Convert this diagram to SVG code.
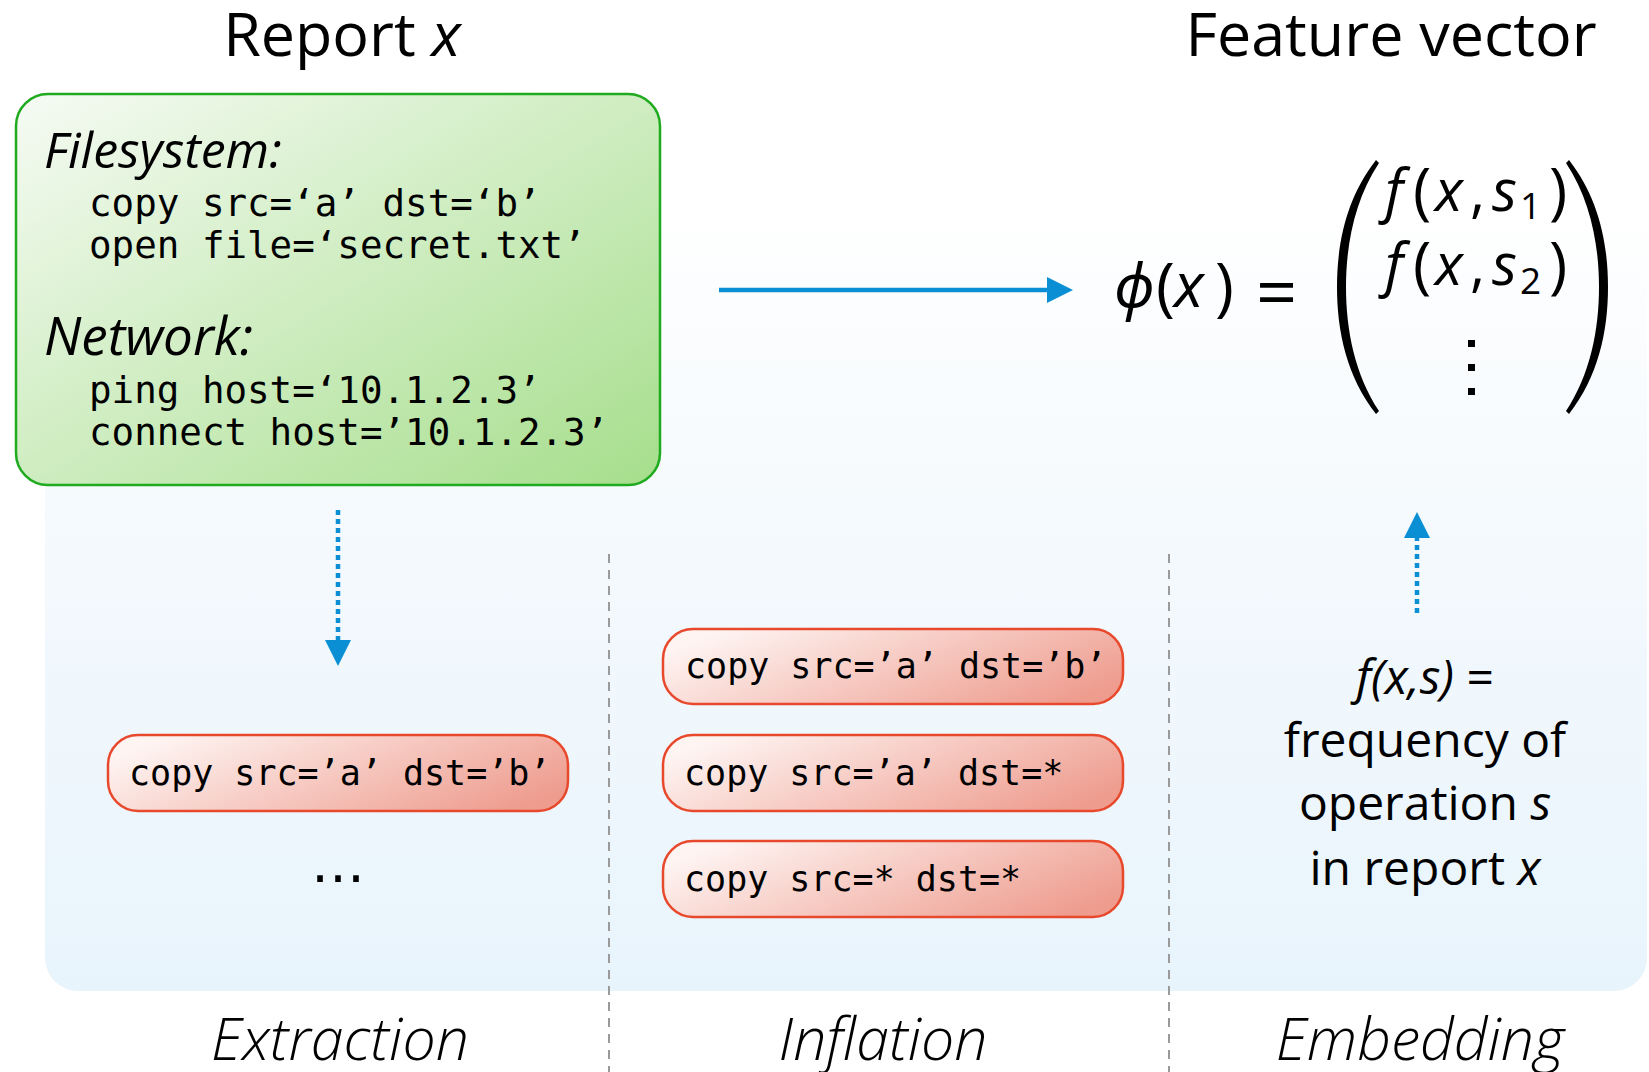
<svg xmlns="http://www.w3.org/2000/svg" width="1649" height="1072" viewBox="0 0 1649 1072">
<style>
.title{font-family:"Open Sans","Noto Sans",sans-serif;font-size:61px;fill:#000}
.head{font-family:"Open Sans","Noto Sans",sans-serif;font-style:italic;font-size:50px;fill:#000}
.mono{font-family:"DejaVu Sans Mono",monospace;fill:#000}
.box{font-size:37.5px}
.pilltxt{font-size:35px}
.mi{font-family:"Open Sans","DejaVu Sans",sans-serif;font-style:italic;font-weight:400;fill:#000}
.mr{font-family:"Open Sans","DejaVu Sans",sans-serif;font-style:normal;font-weight:400;fill:#000}
.emb{font-family:"Open Sans","Noto Sans",sans-serif;font-size:48px;fill:#000;text-anchor:middle}
.stage{font-family:"Open Sans","Noto Sans",sans-serif;font-style:italic;font-weight:300;font-size:59px;fill:#000;text-anchor:middle}
.pill{fill:url(#redg);stroke:#e8492c;stroke-width:2.5}
.sep{stroke:#9a9a9a;stroke-width:2;stroke-dasharray:9 7;fill:none}
.arrow{stroke:#0a8fd4;stroke-width:4.5;fill:none}
.dotted{stroke-dasharray:5 4}
</style>
<defs>
<linearGradient id="panelg" x1="0" y1="0" x2="0" y2="1">
<stop offset="0" stop-color="#ffffff"/>
<stop offset="0.35" stop-color="#f6fafd"/>
<stop offset="1" stop-color="#e8f4fc"/>
</linearGradient>
<linearGradient id="greeng" x1="0" y1="0" x2="1" y2="1">
<stop offset="0" stop-color="#f6fbf4"/>
<stop offset="1" stop-color="#a6de8c"/>
</linearGradient>
<linearGradient id="redg" x1="0" y1="0.3" x2="1" y2="0.7">
<stop offset="0" stop-color="#fef5f3"/>
<stop offset="1" stop-color="#ee9c8e"/>
</linearGradient>
<marker id="ah" viewBox="0 0 10 10" refX="0" refY="5" markerWidth="26" markerHeight="26" markerUnits="userSpaceOnUse" orient="auto">
<path d="M0,0 L10,5 L0,10 Z" fill="#0a8fd4"/>
</marker>
</defs>

<rect id="panel" x="45" y="200" width="1602" height="791" rx="33" fill="url(#panelg)"/>

<g id="separators">
<line class="sep" x1="609" y1="554" x2="609" y2="1072"/>
<line class="sep" x1="1169" y1="554" x2="1169" y2="1072"/>
</g>

<g id="title-report"><text class="title" x="342" y="56" text-anchor="middle">Report <tspan font-style="italic">x</tspan></text></g>
<g id="title-feature"><text class="title" x="1391" y="56" text-anchor="middle">Feature vector</text></g>

<g id="report">
<rect x="16" y="94" width="644" height="391" rx="32" fill="url(#greeng)" stroke="#1faa1f" stroke-width="2.5"/>
<text class="head" x="44" y="168">Filesystem:</text>
<text class="mono box" x="89" y="216">copy src=‘a’ dst=‘b’</text>
<text class="mono box" x="89" y="258">open file=‘secret.txt’</text>
<text class="head" x="44" y="355" style="font-size:53px">Network:</text>
<text class="mono box" x="89" y="403">ping host=‘10.1.2.3’</text>
<text class="mono box" x="89" y="445">connect host=’10.1.2.3’</text>
</g>

<g id="feature-vector">
<text x="1114" y="307" style="font-family:'Noto Sans','DejaVu Sans',sans-serif;font-style:italic;font-weight:400;font-size:60px">ϕ</text>
<text class="mr" x="1156" y="309" style="font-size:64px">(</text>
<text class="mi" x="1174" y="307" style="font-size:62px">x</text>
<text class="mr" x="1215" y="309" style="font-size:64px">)</text>
<text class="mr" x="1256" y="318" style="font-size:72px">=</text>
<path d="M1376,160 C1347,197 1337,242 1337,287 C1337,332 1347,377 1376,414 L1379,411 C1355,375 1346,330 1346,287 C1346,244 1355,199 1379,163 Z" fill="#000"/>
<path d="M1569,160 C1598,197 1608,242 1608,287 C1608,332 1598,377 1569,414 L1566,411 C1590,375 1599,330 1599,287 C1599,244 1590,199 1566,163 Z" fill="#000"/>
<text class="mi" x="1385" y="211" style="font-size:58px">f</text>
<text class="mr" x="1413" y="213" style="font-size:62px">(</text>
<text class="mi" x="1435" y="211" style="font-size:58px">x</text>
<text class="mr" x="1470" y="211" style="font-size:58px">,</text>
<text class="mi" x="1492" y="211" style="font-size:58px">s</text>
<text class="mr" x="1520" y="219" style="font-size:37px">1</text>
<text class="mr" x="1549" y="213" style="font-size:62px">)</text>
<text class="mi" x="1385" y="285" style="font-size:58px">f</text>
<text class="mr" x="1413" y="287" style="font-size:62px">(</text>
<text class="mi" x="1435" y="285" style="font-size:58px">x</text>
<text class="mr" x="1470" y="285" style="font-size:58px">,</text>
<text class="mi" x="1492" y="285" style="font-size:58px">s</text>
<text class="mr" x="1520" y="294" style="font-size:37px">2</text>
<text class="mr" x="1549" y="287" style="font-size:62px">)</text>
<rect x="1468" y="340" width="7" height="7" fill="#000"/>
<rect x="1468" y="364" width="7" height="7" fill="#000"/>
<rect x="1468" y="388" width="7" height="7" fill="#000"/>
</g>

<g id="extract-pill">
<rect class="pill" x="108" y="735" width="460" height="76" rx="30"/>
<text class="mono pilltxt" x="129" y="785">copy src=’a’ dst=’b’</text>
</g>
<g id="extract-more"><text x="338" y="882" text-anchor="middle" font-family="DejaVu Sans,sans-serif" font-size="54">…</text></g>

<g id="inflate-1">
<rect class="pill" x="663" y="629" width="460" height="75" rx="30"/>
<text class="mono pilltxt" x="685" y="678">copy src=’a’ dst=’b’</text>
</g>
<g id="inflate-2">
<rect class="pill" x="663" y="735" width="460" height="76" rx="30"/>
<text class="mono pilltxt" x="684" y="785">copy src=’a’ dst=*</text>
</g>
<g id="inflate-3">
<rect class="pill" x="663" y="841" width="460" height="76" rx="30"/>
<text class="mono pilltxt" x="684" y="891">copy src=* dst=*</text>
</g>

<g id="embedding-text">
<text class="emb" x="1425" y="694"><tspan font-style="italic">f(x,s)</tspan> =</text>
<text class="emb" x="1425" y="757">frequency of</text>
<text class="emb" x="1425" y="820">operation <tspan font-style="italic">s</tspan></text>
<text class="emb" x="1425" y="885">in report <tspan font-style="italic">x</tspan></text>
</g>

<g id="connectors">
<line class="arrow" x1="719" y1="290" x2="1047" y2="290" marker-end="url(#ah)"/>
<line class="arrow dotted" x1="338" y1="510" x2="338" y2="640" marker-end="url(#ah)"/>
<line class="arrow dotted" x1="1417" y1="613" x2="1417" y2="538" marker-end="url(#ah)"/>
</g>

<g id="stages">
<text class="stage" x="340" y="1060">Extraction</text>
<text class="stage" x="883" y="1060">Inflation</text>
<text class="stage" x="1420" y="1060">Embedding</text>
</g>
</svg>
